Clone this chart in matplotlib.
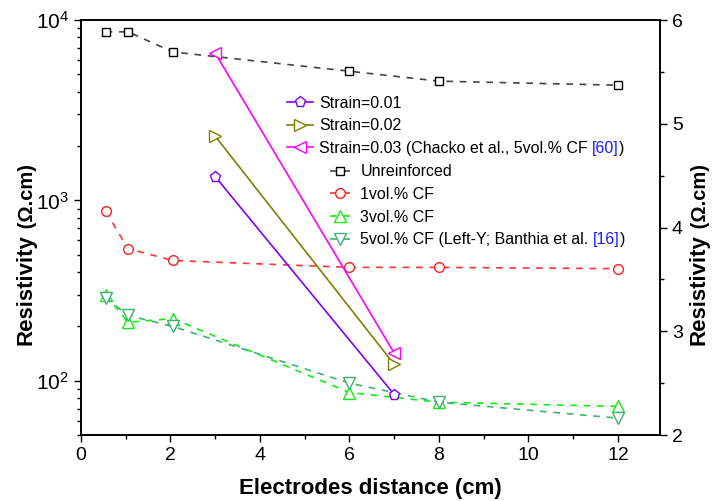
import matplotlib
matplotlib.use("Agg")
import matplotlib.pyplot as plt
from matplotlib.ticker import MultipleLocator, LogLocator, NullFormatter

plt.rcParams["font.family"] = ["Liberation Sans", "DejaVu Sans"]
plt.rcParams["mathtext.fontset"] = "custom"
plt.rcParams["mathtext.rm"] = "Liberation Sans"

# ── DATA ────────────────────────────────────────────────────
# left axis (log) : resistivity of plain / fibre mixes
dist = [0.55, 1.05, 2.05, 6, 8, 12]
unreinforced = [8600, 8600, 6650, 5200, 4580, 4350]
cf1 = [870, 540, 464, 425, 425, 418]
cf3 = [300, 211, 221, 86, 76, 72]
cf5 = [289, 230, 200, 97, 76, 62]

# right axis (linear) : strain series
strain_dist = [3, 7]
strain_001 = [4.49, 2.39]
strain_002 = [4.88, 2.68]
strain_003 = [5.68, 2.79]

# ── FIGURE ──────────────────────────────────────────────────
fig = plt.figure(figsize=(7.13, 5.01), dpi=100)
ax = fig.add_axes([81 / 713, 66 / 501, 579 / 713, 415 / 501])
ax2 = ax.twinx()

dash = (0, (4, 4))
ms = 7
lw = 1.2

l_un, = ax.plot(dist, unreinforced, ls=dash, lw=lw, color="#444444", marker="s",
                mfc="white", mec="black", ms=ms - 1, label="Unreinforced")
l_1, = ax.plot(dist, cf1, ls=dash, lw=lw, color="#ff3333", marker="o",
               mfc="white", mec="#ff2020", ms=ms, label="1vol.% CF")
l_3, = ax.plot(dist, cf3, ls=dash, lw=lw, color="#11ee11", marker="^",
               mfc="white", mec="#11ee11", ms=ms + 1, label="3vol.% CF")
l_5, = ax.plot(dist, cf5, ls=dash, lw=lw, color="#3cb371", marker="v",
               mfc="white", mec="#3cb371", ms=ms + 1,
               label="5vol.% CF (Left-Y; Banthia et al.")

s1, = ax2.plot(strain_dist, strain_001, lw=lw, color="#8000ff", marker="p",
               mfc="white", mec="#8000ff", ms=ms + 1, label="Strain=0.01")
s2, = ax2.plot(strain_dist, strain_002, lw=lw, color="#808000", marker=">",
               mfc="white", mec="#808000", ms=ms + 1, label="Strain=0.02")
s3, = ax2.plot(strain_dist, strain_003, lw=lw, color="#ff00ff", marker="<",
               mfc="white", mec="#ff00ff", ms=ms + 1,
               label="Strain=0.03 (Chacko et al., 5vol.% CF")

# ── AXES ────────────────────────────────────────────────────
ax.set_xlim(0, 12.94)
ax.set_yscale("log")
ax.set_ylim(50, 10000)
ax2.set_ylim(2, 6)

ax.xaxis.set_major_locator(MultipleLocator(2))
ax.xaxis.set_minor_locator(MultipleLocator(1))
ax.yaxis.set_minor_locator(LogLocator(base=10, subs=range(2, 10)))
ax.yaxis.set_minor_formatter(NullFormatter())
ax2.yaxis.set_major_locator(MultipleLocator(1))
ax2.yaxis.set_minor_locator(MultipleLocator(0.5))

for a in (ax, ax2):
    a.tick_params(which="major", direction="out", length=5, width=1, labelsize=14)
    a.tick_params(which="minor", direction="out", length=3, width=1)
    for sp in a.spines.values():
        sp.set_linewidth(1.2)
ax.tick_params(axis="y", which="both", right=False, labelsize=15)
ax.tick_params(axis="x", which="both", top=False)

ax.set_xlabel("Electrodes distance (cm)", fontsize=16, fontweight="bold", labelpad=10)

# y labels: big bold word + smaller unit
ylab = ax.set_ylabel("Resistivity", fontsize=16, fontweight="bold")
ax.yaxis.set_label_coords(-0.076, 0.35)
ax.annotate(" (Ω.cm)", xy=(1, 1), xycoords=ylab, rotation=90, ha="right", va="bottom",
            fontsize=14.5, fontweight="bold", annotation_clip=False)
ylab2 = ax2.set_ylabel("Resistivity", fontsize=16, fontweight="bold")
ax2.yaxis.set_label_coords(1.05, 0.35)
ax2.annotate(" (Ω.cm)", xy=(1, 1), xycoords=ylab2, rotation=90, ha="right", va="bottom",
             fontsize=14.5, fontweight="bold", annotation_clip=False)

# ── LEGENDS ─────────────────────────────────────────────────
leg1 = ax2.legend(handles=[s1, s2, s3], loc="upper left",
                  bbox_to_anchor=(0.356, 0.818), frameon=False, fontsize=11.5,
                  borderpad=0, borderaxespad=0, handlelength=1.6,
                  handletextpad=0.4, labelspacing=0.48)
ax2.add_artist(leg1)
leg2 = ax2.legend(handles=[l_un, l_1, l_3, l_5], loc="upper left",
                  bbox_to_anchor=(0.430, 0.652), frameon=False, fontsize=11.5,
                  borderpad=0, borderaxespad=0, handlelength=1.3,
                  handletextpad=0.6, labelspacing=0.48)

# blue reference numbers appended to the legend entries (drawn after the legends)
for txt, ref in ((leg1.get_texts()[2], "[60]"), (leg2.get_texts()[3], "[16]")):
    r = ax2.annotate(ref, xy=(1, 0), xycoords=txt, xytext=(3, 0),
                     textcoords="offset points", va="bottom", ha="left",
                     fontsize=11.5, color="#1a1aff", zorder=10)
    ax2.annotate(")", xy=(1, 0), xycoords=r, va="bottom", ha="left",
                 fontsize=11.5, zorder=11)

fig.savefig("out.png", dpi=100)
